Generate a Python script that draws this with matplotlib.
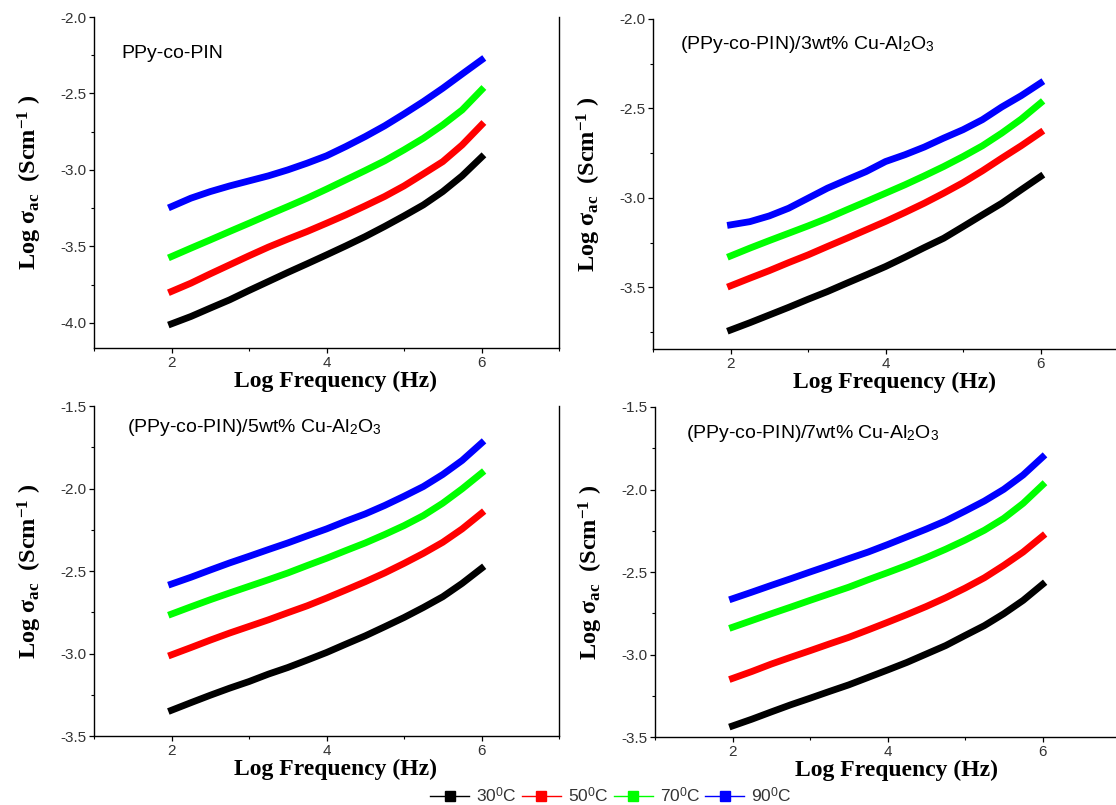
import matplotlib
matplotlib.use("Agg")
import matplotlib.pyplot as plt
from matplotlib.ticker import MultipleLocator, FormatStrFormatter
from matplotlib.lines import Line2D

plt.rcParams['mathtext.fontset'] = 'custom'
plt.rcParams['mathtext.rm'] = 'Liberation Serif:bold'
plt.rcParams['mathtext.bf'] = 'Liberation Serif:bold'
plt.rcParams['mathtext.it'] = 'Liberation Serif:bold'
plt.rcParams['mathtext.sf'] = 'Liberation Sans'
plt.rcParams['mathtext.default'] = 'rm'

# ---------------- data ----------------
log_freq = [2.0, 2.25, 2.5, 2.75, 3.0, 3.25, 3.5, 3.75, 4.0,
            4.25, 4.5, 4.75, 5.0, 5.25, 5.5, 5.75, 6.0]
temps = ["30", "50", "70", "90"]
colors = ["#000000", "#ff0000", "#00ff00", "#0000ff"]

# PPy-co-PIN
p1_30 = [-4.007, -3.959, -3.904, -3.850, -3.789, -3.730, -3.671, -3.614, -3.556,
         -3.497, -3.436, -3.370, -3.301, -3.229, -3.142, -3.039, -2.917]
p1_50 = [-3.795, -3.741, -3.680, -3.621, -3.562, -3.505, -3.453, -3.403, -3.349,
         -3.294, -3.235, -3.174, -3.105, -3.026, -2.946, -2.837, -2.706]
p1_70 = [-3.567, -3.512, -3.458, -3.403, -3.349, -3.294, -3.240, -3.185, -3.126,
         -3.065, -3.004, -2.941, -2.869, -2.793, -2.706, -2.608, -2.477]
p1_90 = [-3.240, -3.185, -3.142, -3.105, -3.072, -3.039, -3.000, -2.956, -2.908,
         -2.847, -2.782, -2.712, -2.634, -2.553, -2.466, -2.373, -2.281]

# 3 wt%
p2_30 = [-3.739, -3.698, -3.655, -3.612, -3.567, -3.524, -3.477, -3.431, -3.384,
         -3.332, -3.278, -3.226, -3.161, -3.095, -3.030, -2.955, -2.881]
p2_50 = [-3.492, -3.449, -3.407, -3.362, -3.319, -3.272, -3.226, -3.179, -3.132,
         -3.082, -3.030, -2.974, -2.915, -2.849, -2.778, -2.709, -2.635]
p2_70 = [-3.325, -3.281, -3.239, -3.198, -3.157, -3.114, -3.067, -3.021, -2.974,
         -2.927, -2.877, -2.825, -2.769, -2.709, -2.638, -2.560, -2.470]
p2_90 = [-3.151, -3.133, -3.101, -3.058, -3.002, -2.946, -2.899, -2.853, -2.797,
         -2.759, -2.716, -2.666, -2.619, -2.563, -2.492, -2.429, -2.358]

# 5 wt%
p3_30 = [-3.344, -3.298, -3.253, -3.210, -3.170, -3.125, -3.085, -3.040, -2.994,
         -2.943, -2.893, -2.838, -2.782, -2.721, -2.656, -2.575, -2.484]
p3_50 = [-3.008, -2.964, -2.919, -2.876, -2.836, -2.796, -2.753, -2.711, -2.664,
         -2.615, -2.565, -2.512, -2.454, -2.393, -2.326, -2.245, -2.150]
p3_70 = [-2.761, -2.717, -2.674, -2.633, -2.593, -2.553, -2.512, -2.467, -2.423,
         -2.376, -2.330, -2.279, -2.225, -2.164, -2.089, -2.002, -1.907]
p3_90 = [-2.579, -2.538, -2.494, -2.451, -2.411, -2.370, -2.330, -2.287, -2.245,
         -2.198, -2.154, -2.103, -2.047, -1.988, -1.915, -1.830, -1.725]

# 7 wt%
p4_30 = [-3.433, -3.392, -3.348, -3.305, -3.265, -3.224, -3.184, -3.139, -3.094,
         -3.048, -2.997, -2.946, -2.885, -2.825, -2.753, -2.672, -2.575]
p4_50 = [-3.145, -3.103, -3.058, -3.017, -2.977, -2.936, -2.896, -2.851, -2.805,
         -2.758, -2.709, -2.656, -2.598, -2.535, -2.460, -2.379, -2.283]
p4_70 = [-2.835, -2.794, -2.753, -2.713, -2.672, -2.632, -2.592, -2.547, -2.504,
         -2.460, -2.413, -2.362, -2.307, -2.247, -2.175, -2.084, -1.973]
p4_90 = [-2.662, -2.622, -2.581, -2.541, -2.500, -2.460, -2.419, -2.379, -2.334,
         -2.287, -2.240, -2.190, -2.131, -2.070, -1.999, -1.912, -1.804]

titles = ["PPy-co-PIN",
          r"(PPy-co-PIN)/3wt% Cu-Al$_\mathsf{2}$O$_\mathsf{3}$",
          r"(PPy-co-PIN)/5wt% Cu-Al$_\mathsf{2}$O$_\mathsf{3}$",
          r"(PPy-co-PIN)/7wt% Cu-Al$_\mathsf{2}$O$_\mathsf{3}$"]
panel_series = [[p1_30, p1_50, p1_70, p1_90],
                [p2_30, p2_50, p2_70, p2_90],
                [p3_30, p3_50, p3_70, p3_90],
                [p4_30, p4_50, p4_70, p4_90]]
ylims = [(-4.165, -2.0), (-3.845, -2.0), (-3.5, -1.5), (-3.5, -1.5)]
xlim = (1, 7)
xlabel = "Log Frequency (Hz)"
ylabel = r"Log σ$_{ac}$  (Scm$^{-1}$ )"

# ---------------- layout ----------------
rects = [(0.08423, 0.56770, 0.41667, 0.41118),
         (0.58513, 0.56646, 0.41667, 0.40994),
         (0.08423, 0.08571, 0.41667, 0.40994),
         (0.58692, 0.08447, 0.41667, 0.40994)]
title_pos = [(0.058, 0.876), (0.058, 0.909), (0.071, 0.921), (0.067, 0.906)]

fig = plt.figure(figsize=(11.16, 8.05), dpi=100)

for i in range(4):
    ax = fig.add_axes(rects[i])
    for s, c in zip(panel_series[i], colors):
        ax.plot(log_freq, s, color=c, lw=4.9, solid_capstyle='projecting',
                solid_joinstyle='round')
    ax.set_xlim(*xlim)
    ax.set_ylim(*ylims[i])
    ax.xaxis.set_major_locator(MultipleLocator(2))
    ax.xaxis.set_minor_locator(MultipleLocator(1))
    ax.yaxis.set_major_locator(MultipleLocator(0.5))
    ax.yaxis.set_minor_locator(MultipleLocator(0.25))
    ax.yaxis.set_major_formatter(FormatStrFormatter('%.1f'))
    ax.spines['top'].set_visible(False)
    for sp in ['left', 'bottom', 'right']:
        ax.spines[sp].set_linewidth(1.0)
    ax.tick_params(which='major', direction='out', length=3.5, width=0.9,
                   labelsize=11, labelcolor='#333333', pad=2)
    ax.tick_params(which='minor', direction='out', length=2.2, width=0.8)
    ax.tick_params(axis='x', which='both', top=False)
    ax.tick_params(axis='y', which='both', right=False)
    for lab in ax.get_xticklabels() + ax.get_yticklabels():
        lab.set_family('Liberation Sans')
    ax.set_xlabel(xlabel, family='Liberation Serif', fontweight='bold',
                  fontsize=17)
    ax.set_ylabel(ylabel, family='Liberation Serif', fontweight='bold',
                  fontsize=17.5)
    ax.xaxis.label.set_va('center')
    ax.yaxis.label.set_va('center')
    ax.xaxis.set_label_coords(0.52, -0.102)
    ax.yaxis.set_label_coords(-0.138, 0.5)
    ax.text(title_pos[i][0], title_pos[i][1], titles[i], transform=ax.transAxes,
            family='Liberation Sans', fontsize=14, va='baseline', ha='left')

handles = [Line2D([0], [0], color=c, lw=1.0, marker='s', markersize=7)
           for c in colors]
labels = [t + r"$^\mathsf{0}$C" for t in temps]
leg = fig.legend(handles, labels, loc='center', bbox_to_anchor=(0.5475, 0.012),
                 ncol=4, frameon=False, handlelength=2.25, handletextpad=0.4,
                 columnspacing=0.3, prop={'family': 'Liberation Sans', 'size': 12.5},
                 borderpad=0.1)
for t in leg.get_texts():
    t.set_color('#333333')

fig.savefig("out.png", dpi=100)
